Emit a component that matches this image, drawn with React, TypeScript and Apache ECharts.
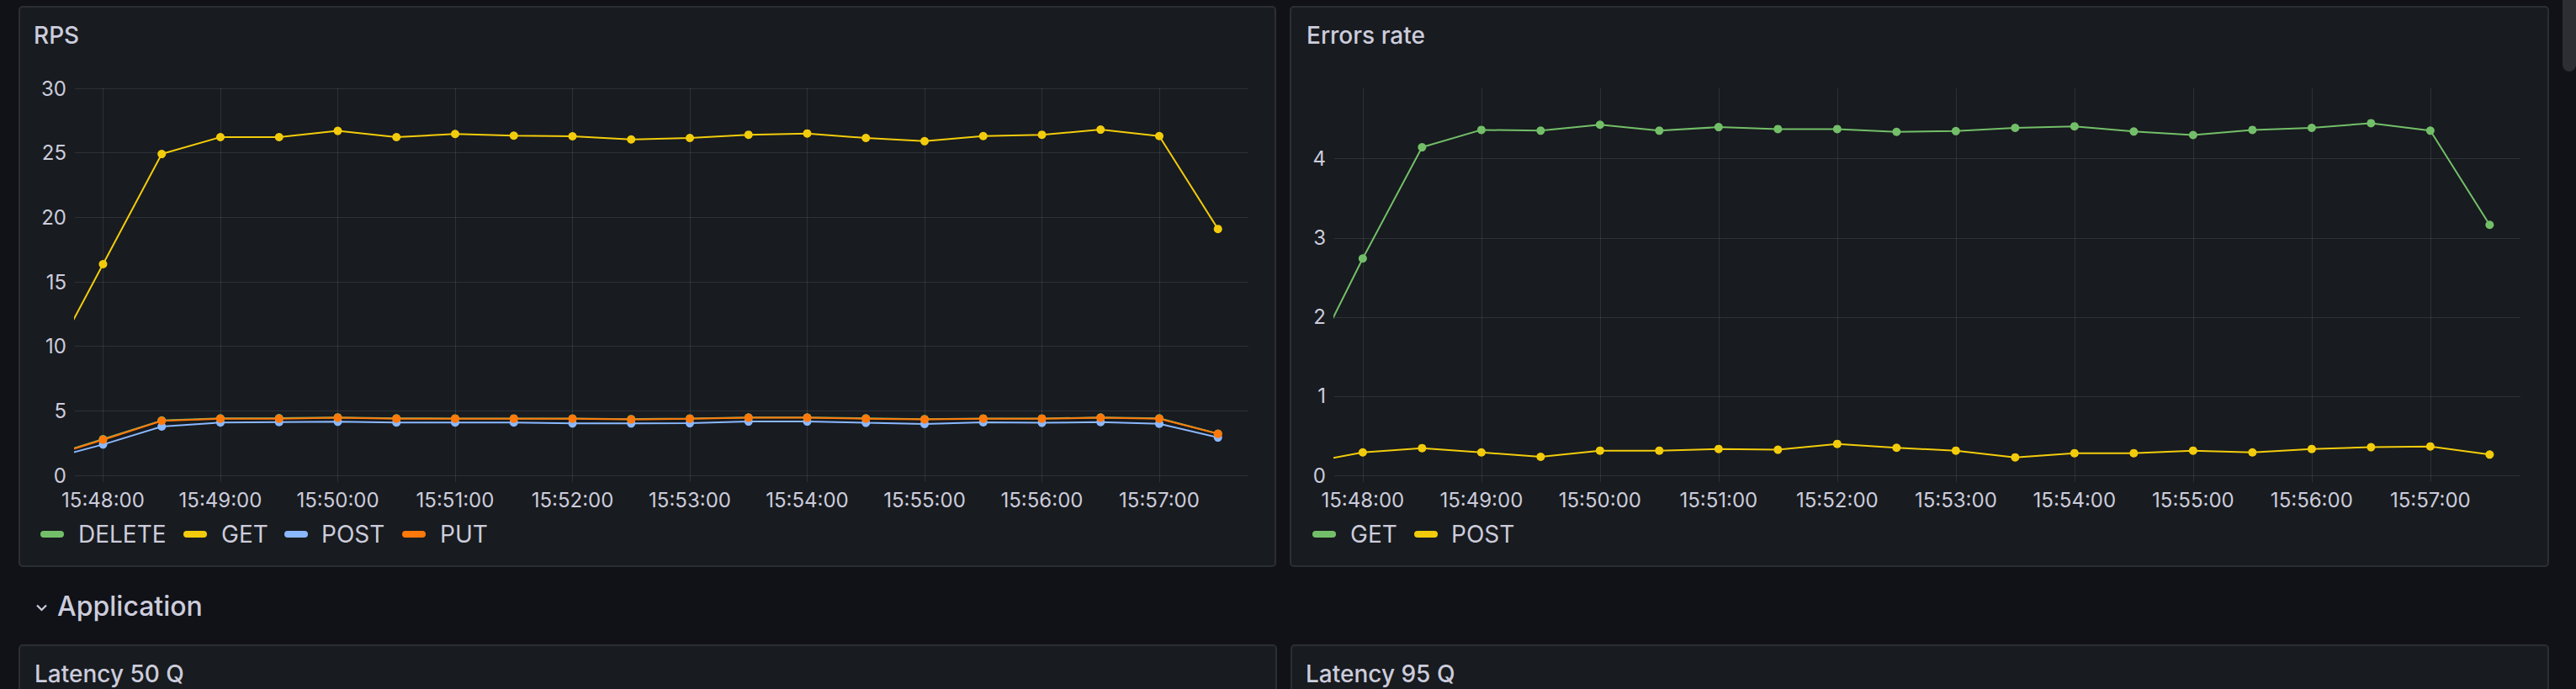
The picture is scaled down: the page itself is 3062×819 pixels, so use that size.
import React, { useEffect, useRef } from 'react';
import * as echarts from 'echarts';

// ---- data ----
const times = [
  '15:47:30', '15:48:00', '15:48:30', '15:49:00', '15:49:30', '15:50:00', '15:50:30',
  '15:51:00', '15:51:30', '15:52:00', '15:52:30', '15:53:00', '15:53:30', '15:54:00',
  '15:54:30', '15:55:00', '15:55:30', '15:56:00', '15:56:30', '15:57:00', '15:57:30',
];
const rangeStart = '15:47:45.6';
const rangeEnd = '15:57:45.6';

const rpsSeriesNames = ['DELETE', 'GET', 'POST', 'PUT'];
const rpsDelete = [1.4, 2.8, 4.25, 4.42, 4.43, 4.49, 4.42, 4.41, 4.41, 4.4, 4.36, 4.41, 4.48, 4.48, 4.42, 4.36, 4.41, 4.41, 4.48, 4.42, 3.23];
const rpsGet = [7.8, 16.37, 24.91, 26.22, 26.22, 26.7, 26.22, 26.46, 26.33, 26.28, 26.04, 26.15, 26.4, 26.5, 26.15, 25.9, 26.3, 26.4, 26.8, 26.3, 19.1];
const rpsPost = [1.18, 2.39, 3.78, 4.09, 4.13, 4.15, 4.09, 4.09, 4.09, 4.02, 4.02, 4.04, 4.17, 4.17, 4.07, 3.98, 4.11, 4.07, 4.13, 4.0, 2.93];
const rpsPut = [1.35, 2.76, 4.22, 4.39, 4.39, 4.46, 4.39, 4.39, 4.39, 4.39, 4.33, 4.39, 4.46, 4.46, 4.39, 4.33, 4.39, 4.39, 4.46, 4.39, 3.22];

const errSeriesNames = ['GET', 'POST'];
const errGet = [1.24, 2.74, 4.145, 4.365, 4.355, 4.43, 4.355, 4.4, 4.375, 4.375, 4.34, 4.35, 4.39, 4.41, 4.344, 4.3, 4.365, 4.39, 4.45, 4.355, 3.165];
const errPost = [0.15, 0.29, 0.344, 0.29, 0.234, 0.312, 0.312, 0.333, 0.323, 0.397, 0.348, 0.312, 0.227, 0.28, 0.28, 0.312, 0.29, 0.333, 0.355, 0.365, 0.262];

const rpsAxis = { min: 0, max: 30, interval: 5 };
const errAxis = { min: 0, max: 4.89, interval: 1 };

const panelTitles = ['RPS', 'Errors rate'];
const rowTitle = 'Application';
const lowerTitles = ['Latency 50 Q', 'Latency 95 Q'];

// ---- style ----
const C = {
  green: '#73BF69',
  yellow: '#F2CC0C',
  blue: '#8AB8FF',
  orange: '#FF780A',
  page: '#111217',
  panel: '#181b1f',
  border: '#2b2e33',
  grid: 'rgba(240,250,255,0.10)',
  text: '#ccccdc',
};
const FONT = 'Inter, "Noto Sans", sans-serif';

// legend layout (marker x, text x) in px
const rpsLegendPos = [[48, 93], [218, 263], [338, 382], [478, 523]];
const errLegendPos = [[1560, 1605], [1681, 1725]];

function toMs(t: string): number {
  const [h, m, s] = t.split(':');
  return Date.UTC(2024, 0, 1, Number(h), Number(m), 0) + Math.round(Number(s) * 1000);
}
function pad(n: number) {
  return n < 10 ? '0' + n : String(n);
}

export default function App() {
  const ref = useRef<HTMLDivElement>(null);

  useEffect(() => {
    const chart = echarts.init(ref.current!, null, { renderer: 'svg' });
    const xs = times.map(toMs);
    const pairs = (vals: number[]) => vals.map((v, i) => [xs[i], v]);

    const xAxis = (gridIndex: number) => ({
      type: 'time',
      gridIndex,
      min: toMs(rangeStart),
      max: toMs(rangeEnd),
      minInterval: 60000,
      maxInterval: 60000,
      splitNumber: 10,
      axisLine: { show: false },
      axisTick: { show: true, length: 8, lineStyle: { color: C.grid, width: 1 } },
      axisLabel: {
        color: C.text,
        fontSize: 24,
        fontFamily: FONT,
        margin: 17,
        hideOverlap: false,
        formatter: (value: number) => {
          const d = new Date(value);
          if (d.getUTCSeconds() !== 0 || d.getUTCMilliseconds() !== 0) return '';
          return pad(d.getUTCHours()) + ':' + pad(d.getUTCMinutes()) + ':' + pad(d.getUTCSeconds());
        },
      },
      splitLine: { show: true, showMinLine: false, showMaxLine: false, lineStyle: { color: C.grid, width: 1 } },
    });

    const yAxis = (gridIndex: number, cfg: { min: number; max: number; interval: number }, hideMax: boolean) => ({
      type: 'value',
      gridIndex,
      min: cfg.min,
      max: cfg.max,
      interval: cfg.interval,
      axisLine: { show: false },
      axisTick: { show: false },
      axisLabel: {
        color: C.text,
        fontSize: 24,
        fontFamily: FONT,
        margin: 10,
        showMaxLabel: !hideMax,
      },
      splitLine: { show: true, showMaxLine: !hideMax, lineStyle: { color: C.grid, width: 1 } },
    });

    const line = (name: string, color: string, data: number[], idx: number) => ({
      name,
      type: 'line',
      xAxisIndex: idx,
      yAxisIndex: idx,
      data: pairs(data),
      color,
      symbol: 'circle',
      symbolSize: 10,
      showSymbol: true,
      clip: true,
      silent: true,
      lineStyle: { width: 2, color },
      itemStyle: { color },
      emphasis: { disabled: true },
    });

    const rect = (x: number, y: number, w: number, h: number) => ({
      type: 'rect',
      z: -10,
      silent: true,
      shape: { x, y, width: w, height: h, r: 4 },
      style: { fill: C.panel, stroke: C.border, lineWidth: 2 },
    });
    const text = (x: number, y: number, t: string, size: number, weight = 500) => ({
      type: 'text',
      z: 5,
      silent: true,
      x,
      y,
      style: {
        text: t,
        fill: C.text,
        fontSize: size,
        fontWeight: weight,
        fontFamily: FONT,
        align: 'left',
        verticalAlign: 'middle',
      },
    });
    const legendItems = (names: string[], colors: string[], pos: number[][]) =>
      names.flatMap((n, i) => [
        {
          type: 'rect',
          z: 5,
          silent: true,
          shape: { x: pos[i][0], y: 631, width: 28, height: 8, r: 4 },
          style: { fill: colors[i] },
        },
        text(pos[i][1], 635, n, 28, 400),
      ]);

    const option: any = {
      animation: false,
      backgroundColor: C.page,
      useUTC: true,
      grid: [
        { left: 89, top: 105, width: 1395, height: 460 },
        { left: 1586, top: 105, width: 1410, height: 460 },
      ],
      xAxis: [xAxis(0), xAxis(1)],
      yAxis: [yAxis(0, rpsAxis, false), yAxis(1, errAxis, true)],
      series: [
        line(rpsSeriesNames[0], C.green, rpsDelete, 0),
        line(rpsSeriesNames[1], C.yellow, rpsGet, 0),
        line(rpsSeriesNames[2], C.blue, rpsPost, 0),
        line(rpsSeriesNames[3], C.orange, rpsPut, 0),
        line('err ' + errSeriesNames[0], C.green, errGet, 1),
        line('err ' + errSeriesNames[1], C.yellow, errPost, 1),
      ],
      graphic: {
        elements: [
          rect(23, 8, 1493, 665),
          rect(1534, 8, 1495, 665),
          rect(23, 767, 1494, 120),
          rect(1535, 767, 1494, 120),
          {
            type: 'rect',
            z: 5,
            silent: true,
            shape: { x: 3046, y: -12, width: 16, height: 97, r: 8 },
            style: { fill: '#2d2e34' },
          },
          text(40, 42, panelTitles[0], 28),
          text(1553, 42, panelTitles[1], 28),
          ...legendItems(rpsSeriesNames, [C.green, C.yellow, C.blue, C.orange], rpsLegendPos),
          ...legendItems(errSeriesNames, [C.green, C.yellow], errLegendPos),
          text(68, 720, rowTitle, 32),
          {
            type: 'polyline',
            z: 5,
            silent: true,
            shape: { points: [[44, 719.5], [49.5, 725], [55, 719.5]] },
            style: { stroke: C.text, lineWidth: 2.2, fill: 'none' },
          },
          text(41, 801, lowerTitles[0], 28),
          text(1552, 801, lowerTitles[1], 28),
        ],
      },
    };

    chart.setOption(option);
    return () => chart.dispose();
  }, []);

  return (
    <div
      ref={ref}
      style={{ position: 'fixed', left: 0, top: 0, width: 3062, height: 819 }}
    />
  );
}
